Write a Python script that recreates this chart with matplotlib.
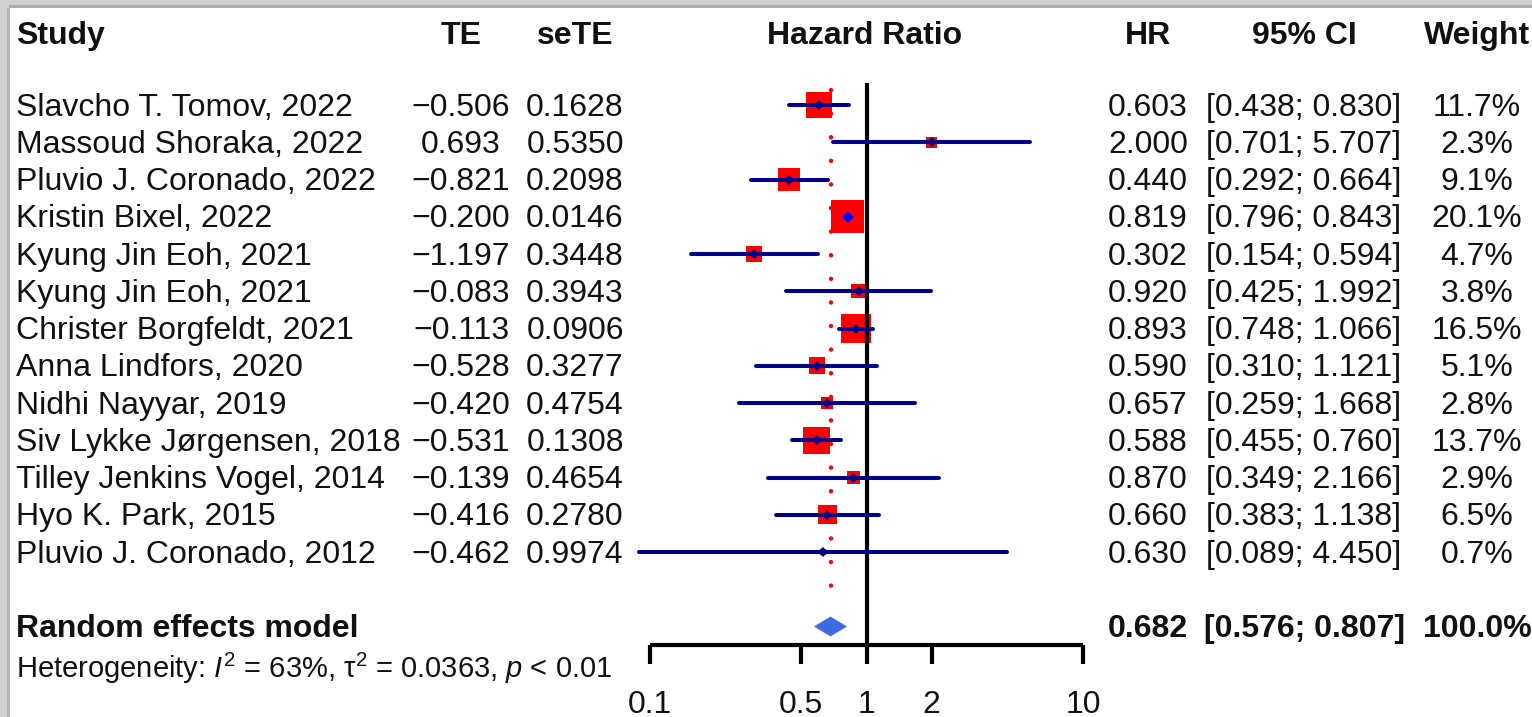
import numpy as np
import matplotlib
matplotlib.use("Agg")
import matplotlib.pyplot as plt
from matplotlib.patches import Polygon, Rectangle
from matplotlib.ticker import NullLocator

plt.rcParams['font.family'] = ['Liberation Sans', 'DejaVu Sans']
plt.rcParams['mathtext.fontset'] = 'custom'
plt.rcParams['mathtext.rm'] = 'Liberation Sans'
plt.rcParams['mathtext.it'] = 'Liberation Sans:italic'

# ---------------- data ----------------
studies = ["Slavcho T. Tomov, 2022", "Massoud Shoraka, 2022", "Pluvio J. Coronado, 2022",
           "Kristin Bixel, 2022", "Kyung Jin Eoh, 2021", "Kyung Jin Eoh, 2021",
           "Christer Borgfeldt, 2021", "Anna Lindfors, 2020", "Nidhi Nayyar, 2019",
           "Siv Lykke Jørgensen, 2018", "Tilley Jenkins Vogel, 2014", "Hyo K. Park, 2015",
           "Pluvio J. Coronado, 2012"]
te = [-0.506, 0.693, -0.821, -0.200, -1.197, -0.083, -0.113, -0.528, -0.420, -0.531, -0.139, -0.416, -0.462]
sete = [0.1628, 0.5350, 0.2098, 0.0146, 0.3448, 0.3943, 0.0906, 0.3277, 0.4754, 0.1308, 0.4654, 0.2780, 0.9974]
hr = [0.603, 2.000, 0.440, 0.819, 0.302, 0.920, 0.893, 0.590, 0.657, 0.588, 0.870, 0.660, 0.630]
ci_lo = [0.438, 0.701, 0.292, 0.796, 0.154, 0.425, 0.748, 0.310, 0.259, 0.455, 0.349, 0.383, 0.089]
ci_hi = [0.830, 5.707, 0.664, 0.843, 0.594, 1.992, 1.066, 1.121, 1.668, 0.760, 2.166, 1.138, 4.450]
weight = [11.7, 2.3, 9.1, 20.1, 4.7, 3.8, 16.5, 5.1, 2.8, 13.7, 2.9, 6.5, 0.7]

pooled_label = "Random effects model"
pooled_hr, pooled_lo, pooled_hi, pooled_w = 0.682, 0.576, 0.807, 100.0
het_text = r"Heterogeneity: $\mathit{I}^2$ = 63%, $\mathrm{\tau}^2$ = 0.0363, $\mathit{p}$ < 0.01"

headers = ["Study", "TE", "seTE", "Hazard Ratio", "HR", "95% CI", "Weight"]
xticks = [0.1, 0.5, 1, 2, 10]
xticklabels = ["0.1", "0.5", "1", "2", "10"]

# ---------------- layout ----------------
W, H = 1532, 717
fig = plt.figure(figsize=(W / 100, H / 100), dpi=100)
fig.patch.set_facecolor("white")

ROW0, DY = 105.0, 37.25          # pixel y of first row, row spacing
def row_of(px):
    return (px - ROW0) / DY
ytop, ybot = row_of(0), row_of(H)

tax = fig.add_axes([0, 0, 1, 1])
tax.set_xlim(0, W)
tax.set_ylim(ybot, ytop)
tax.axis("off")

X0, X1 = 650, 1083
fax = fig.add_axes([X0 / W, 0, (X1 - X0) / W, 1])
fax.set_xscale("log")
fax.set_xlim(0.1, 10)
fax.set_ylim(ybot, ytop)
fax.patch.set_alpha(0)
for s in ["top", "left", "right"]:
    fax.spines[s].set_visible(False)
fax.spines["bottom"].set_position(("data", row_of(645)))
fax.spines["bottom"].set_bounds(0.1, 10)
fax.spines["bottom"].set_linewidth(3)
fax.spines["bottom"].set_capstyle("butt")
fax.set_yticks([])
fax.set_xticks(xticks)
fax.set_xticklabels([])
fax.xaxis.set_minor_locator(NullLocator())
fax.tick_params(axis="x", direction="out", length=14, width=3, color="black")

FS = 23
TXT = "#111111"
n = len(studies)
rows = np.arange(n)
yhdr = row_of(33)
yre = 14
yhet = row_of(666)
VOFF = 0.07  # small shift for visual centering

def T(x, y, s, **kw):
    kw.setdefault("fontsize", FS)
    kw.setdefault("va", "center")
    kw.setdefault("color", TXT)
    tax.text(x, y + VOFF, s, **kw)

col_x = {"TE": 461, "seTE": 575, "HR": 1148, "CI": 1304, "W": 1477}

# headers
T(16, yhdr, headers[0], fontweight="bold", ha="left")
T(col_x["TE"], yhdr, headers[1], fontweight="bold", ha="center")
T(col_x["seTE"], yhdr, headers[2], fontweight="bold", ha="center")
T(865, yhdr, headers[3], fontweight="bold", ha="center")
T(col_x["HR"], yhdr, headers[4], fontweight="bold", ha="center")
T(col_x["CI"], yhdr, headers[5], fontweight="bold", ha="center")
T(col_x["W"], yhdr, headers[6], fontweight="bold", ha="center")

def fmt_num(v, d):
    return f"{v:.{d}f}".replace("-", "\u2212")

for i in range(n):
    y = rows[i]
    T(16, y, studies[i], ha="left")
    T(col_x["TE"], y, fmt_num(te[i], 3), ha="center")
    T(col_x["seTE"], y, f"{sete[i]:.4f}", ha="center")
    T(col_x["HR"], y, f"{hr[i]:.3f}", ha="center")
    T(col_x["CI"], y, f"[{ci_lo[i]:.3f}; {ci_hi[i]:.3f}]", ha="center")
    T(col_x["W"], y, f"{weight[i]:.1f}%", ha="center")

# pooled row
T(16, yre, pooled_label, fontweight="bold", ha="left")
T(col_x["HR"], yre, f"{pooled_hr:.3f}", fontweight="bold", ha="center")
T(col_x["CI"], yre, f"[{pooled_lo:.3f}; {pooled_hi:.3f}]", fontweight="bold", ha="center")
T(col_x["W"], yre, f"{pooled_w:.1f}%", fontweight="bold", ha="center")
T(16, yhet, het_text, fontsize=21, ha="left")

# ---------------- forest graphics ----------------
fax.plot([1, 1], [row_of(83), row_of(645)], color="black", lw=3, solid_capstyle="butt", zorder=3)
fax.plot([pooled_hr, pooled_hr], [row_of(90), row_of(606)], color="red", lw=3.2,
         linestyle=(0, (0.01, 5.3)), dash_capstyle="round", zorder=2)

side_px = 7.36 * np.sqrt(np.array(weight))
side_pt = side_px * 0.72
fax.scatter(hr, rows, s=side_pt ** 2, marker="s", color="#FF0000", linewidths=0, zorder=1)

NAVY = "#00008B"
PX_PER_DEC = (X1 - X0) / 2.0
for i in range(n):
    half = side_px[i] / 2 / PX_PER_DEC
    inside = (np.log10(ci_lo[i]) > np.log10(hr[i]) - half) and (np.log10(ci_hi[i]) < np.log10(hr[i]) + half)
    if inside:
        fax.plot([hr[i]], [rows[i]], marker="D", ms=6, color="#0000FF", mew=0, zorder=5)
    else:
        fax.plot([ci_lo[i], ci_hi[i]], [rows[i], rows[i]], color=NAVY, lw=2.9,
                 solid_capstyle="round", clip_on=False, zorder=4)
        fax.plot([hr[i]], [rows[i]], marker="D", ms=5, color=NAVY, mew=0, zorder=5)

h = 0.255
dia = Polygon([[pooled_lo, yre], [pooled_hr, yre - h], [pooled_hi, yre], [pooled_hr, yre + h]],
              closed=True, facecolor="#4169E1", edgecolor="#4169E1", lw=0.5, zorder=4)
fax.add_patch(dia)

for xv, lab in zip(xticks, xticklabels):
    fax.text(xv, row_of(702) + VOFF, lab, fontsize=FS, ha="center", va="center", color=TXT)

# ---------------- screenshot frame ----------------
tax.add_patch(Rectangle((0, row_of(0)), W, row_of(5) - row_of(0),
                        facecolor="#cfcfcf", edgecolor="none", zorder=10))
tax.add_patch(Rectangle((0, row_of(5)), W, row_of(8) - row_of(5),
                        facecolor="#ababab", edgecolor="none", zorder=10))
tax.add_patch(Rectangle((0, row_of(0)), 9, row_of(H) - row_of(0),
                        facecolor="#d2d2d2", edgecolor="none", zorder=10))
tax.add_patch(Rectangle((7, row_of(8)), 2.5, row_of(H) - row_of(8),
                        facecolor="#b5b5b5", edgecolor="none", zorder=10))

fig.savefig("out.png", dpi=100, facecolor="white")
